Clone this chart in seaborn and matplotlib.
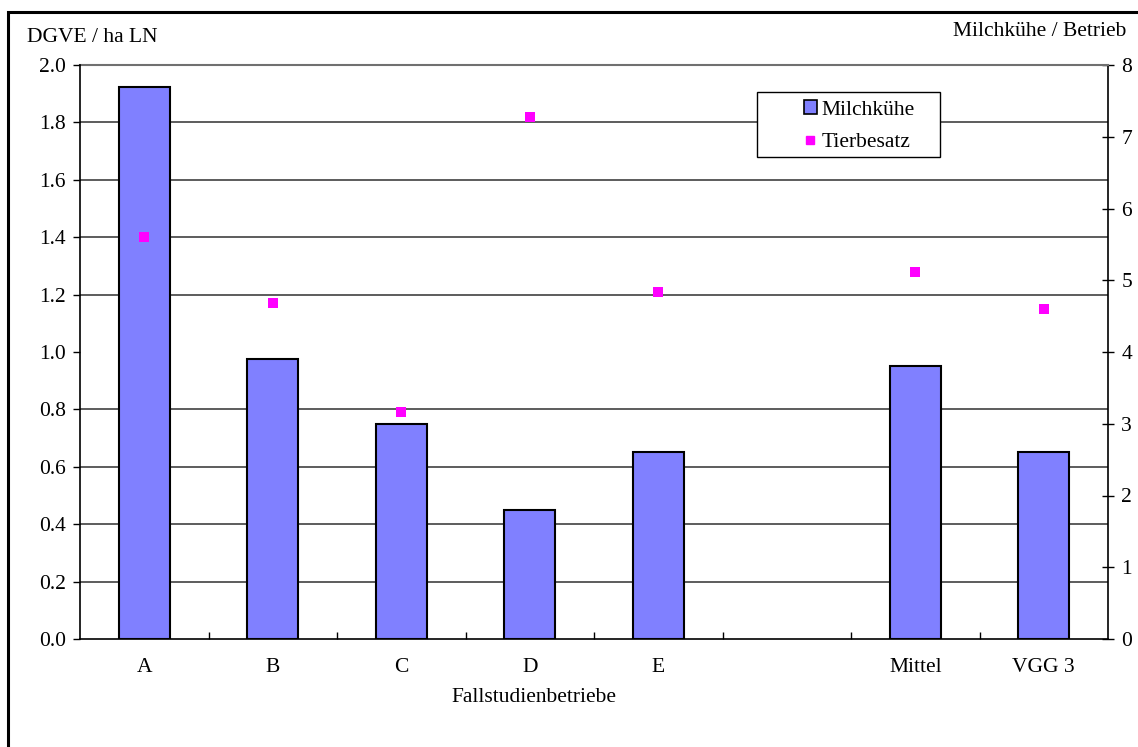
import numpy as np
import pandas as pd
import matplotlib
matplotlib.use("Agg")
import matplotlib.pyplot as plt
from matplotlib.ticker import MultipleLocator, FormatStrFormatter, FixedLocator
from matplotlib.patches import Rectangle
from matplotlib.lines import Line2D
import seaborn as sns

# Data
categories = ["A", "B", "C", "D", "E", "", "Mittel", "VGG 3"]
milchkuehe = [7.7, 3.9, 3.0, 1.8, 2.6, np.nan, 3.8, 2.6]        # Milchkühe / Betrieb (right axis)
tierbesatz = [1.40, 1.17, 0.79, 1.82, 1.21, np.nan, 1.28, 1.15]  # DGVE / ha LN (left axis)

df = pd.DataFrame({"Betrieb": categories, "Milchkuehe": milchkuehe, "Tierbesatz": tierbesatz})

sns.set_theme(style="white")
plt.rcParams["font.family"] = ["Liberation Serif", "DejaVu Serif"]
plt.rcParams.update({
    "text.color": "black",
    "axes.labelcolor": "black",
    "xtick.color": "black",
    "ytick.color": "black",
})

BAR = "#8080FF"
MAG = "#FF00FF"
FS = 15.5

W, H = 1138, 747
fig = plt.figure(figsize=(W / 100, H / 100), dpi=100)
ax = fig.add_axes([80 / W, 1 - 639 / H, 1028 / W, 574 / H])
ax2 = ax.twinx()
# Points axis above bar axis
ax.set_zorder(ax2.get_zorder() + 1)
ax.patch.set_visible(False)

# Bars on the right-hand scale
sns.barplot(data=df, x="Betrieb", y="Milchkuehe", order=categories, ax=ax2,
            color=BAR, edgecolor="black", linewidth=1.5, width=0.4,
            saturation=1, errorbar=None)
ax2.set_ylim(0, 8)
ax2.yaxis.set_major_locator(MultipleLocator(1))
ax2.yaxis.set_major_formatter(FormatStrFormatter("%d"))
# Horizontal grid behind bars, aligned with the left scale steps of 0.2
ax2.yaxis.set_minor_locator(MultipleLocator(0.8))
ax2.set_axisbelow(True)
ax2.grid(False)
ax2.grid(True, which="minor", axis="y", color="#303030", linewidth=1.1)
ax2.tick_params(axis="y", which="minor", length=0)
ax2.tick_params(axis="y", which="major", direction="inout", length=9, width=1,
                color="black", labelcolor="black", labelsize=FS, pad=5, right=True)
ax2.set_ylabel("")
ax2.set_xlabel("")

# Points on the left-hand scale
sns.stripplot(data=df, x="Betrieb", y="Tierbesatz", order=categories, ax=ax,
              jitter=False, marker="s", size=7, color=MAG, linewidth=0, zorder=5)
ax.set_ylim(0, 2.0)
ax.yaxis.set_major_locator(MultipleLocator(0.2))
ax.yaxis.set_major_formatter(FormatStrFormatter("%.1f"))
ax.tick_params(axis="y", which="major", direction="out", length=5, width=1,
               color="black", labelcolor="black", labelsize=FS, pad=5, left=True)
ax.set_ylabel("")
ax.set_xlabel("")
ax.grid(False)

ax.set_xlim(-0.5, len(categories) - 0.5)
ax.set_xticks(range(len(categories)))
ax.set_xticklabels(categories)
ax.tick_params(axis="x", which="major", length=0, labelsize=FS, labelcolor="black", pad=14)
ax.xaxis.set_minor_locator(FixedLocator(np.arange(0.5, len(categories) - 0.5, 1.0)))
ax.tick_params(axis="x", which="minor", direction="in", length=5, width=1,
               color="black", bottom=True)
ax2.tick_params(axis="x", which="both", length=0)

for a in (ax, ax2):
    for s in a.spines.values():
        s.set_visible(False)
ax.spines["left"].set_visible(True)
ax.spines["bottom"].set_visible(True)
ax2.spines["right"].set_visible(True)
for a, side in ((ax, "left"), (ax, "bottom"), (ax2, "right")):
    a.spines[side].set_color("black")
    a.spines[side].set_linewidth(1.2)
ax2.spines["top"].set_visible(True)
ax2.spines["top"].set_color("#707070")
ax2.spines["top"].set_linewidth(1.5)

# Axis titles
fig.text(27 / W, 1 - 38 / H, "DGVE / ha LN", fontsize=FS, ha="left", va="center", color="black")
fig.text(1126 / W, 1 - 32 / H, "Milchkühe / Betrieb", fontsize=FS, ha="right", va="center", color="black")
fig.text(534 / W, 1 - 697 / H, "Fallstudienbetriebe", fontsize=FS, ha="center", va="center", color="black")

# Legend (box drawn separately for its wide left margin)
fig.patches.append(Rectangle((757 / W, 1 - 157 / H), 183 / W, 65 / H,
                             transform=fig.transFigure, facecolor="white",
                             edgecolor="black", linewidth=1.0, zorder=10))
handles = [
    Rectangle((0, 0), 1, 1, facecolor=BAR, edgecolor="black", linewidth=1.2),
    Line2D([], [], linestyle="none", marker="s", markersize=6, color=MAG),
]
leg = fig.legend(handles, ["Milchkühe", "Tierbesatz"], loc="center left",
                 bbox_to_anchor=(804 / W, 1 - 126 / H), bbox_transform=fig.transFigure,
                 fontsize=FS, frameon=False, handlelength=0.6, handleheight=0.6,
                 handletextpad=0.2, borderpad=0, labelspacing=0.6,
                 borderaxespad=0, labelcolor="black")
leg.set_zorder(11)

# Outer frame
fig.patches.append(Rectangle((8 / W, -0.2), 1.5, 0.2 + 1 - 12 / H,
                             transform=fig.transFigure, fill=False,
                             edgecolor="black", linewidth=2.2, clip_on=False))

fig.savefig("out.png", dpi=100)
